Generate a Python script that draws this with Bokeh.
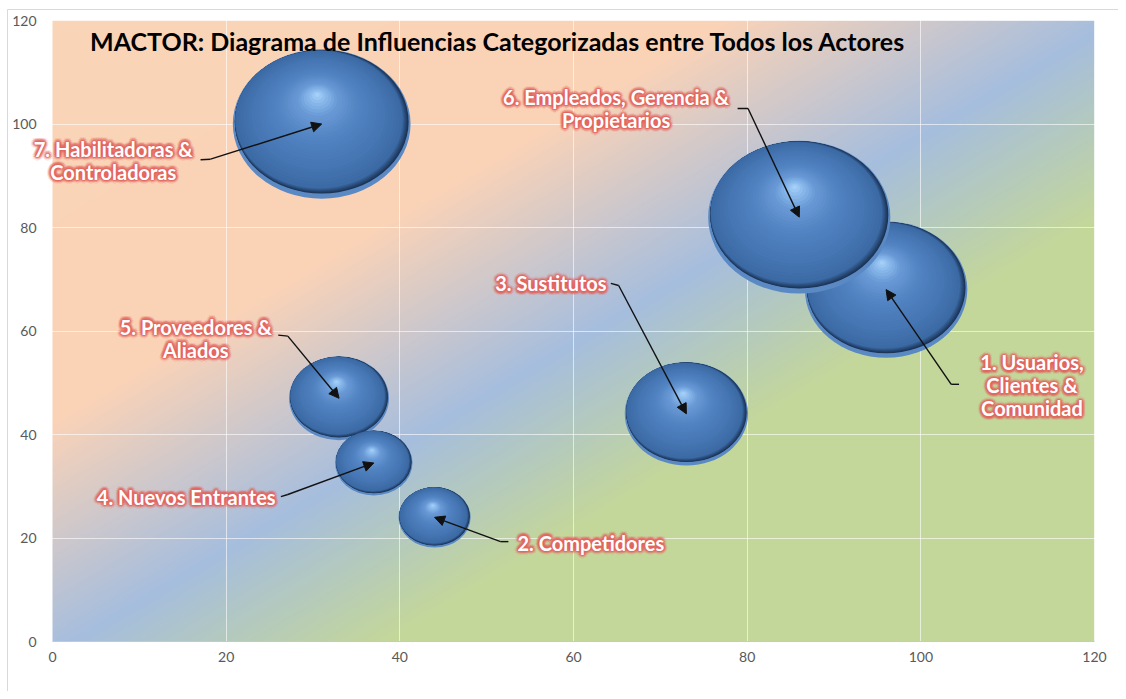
import numpy as np
from bokeh.plotting import figure
from bokeh.models import ColumnDataSource, Arrow, NormalHead, Label, Range1d, FixedTicker
from bokeh.core.properties import value
from bokeh.embed import file_html
from bokeh.resources import INLINE

# ---------------- data ----------------
title = "MACTOR: Diagrama de Influencias Categorizadas entre Todos los Actores"
actors = [
    "1. Usuarios,\nClientes &\nComunidad",
    "2. Competidores",
    "3. Sustitutos",
    "4. Nuevos Entrantes",
    "5. Proveedores &\nAliados",
    "6. Empleados, Gerencia &\nPropietarios",
    "7. Habilitadoras &\nControladoras",
]
influence = [96, 44, 73, 37, 33, 86, 31]
dependence = [68, 24, 44, 34.5, 47, 82, 100]
bubble_size = [66, 13, 38, 15, 25, 83, 79]
x_ticks = [0, 20, 40, 60, 80, 100, 120]
y_ticks = [0, 20, 40, 60, 80, 100, 120]

# data-label placement (annotation positions, data units)
label_x = [112.8, 62.0, 57.4, 15.4, 16.5, 64.9, 7.0]
label_y = [49.5, 19.1, 69.2, 28.0, 58.6, 103.0, 93.0]
leader_x0 = [104.4, 52.5, 64.3, 26.3, 26.0, 78.9, 17.05]
leader_y0 = [49.7, 19.3, 69.2, 28.0, 59.2, 103.0, 93.1]
leader_x1 = [103.5, 51.6, 65.2, 27.1, 27.1, 80.1, 18.2]
leader_y1 = [49.7, 19.3, 68.8, 28.4, 59.0, 103.0, 93.2]
draw_order = [0, 1, 2, 4, 3, 5, 6]

# ---------------- figure ----------------
# The frame covers the whole canvas so that labels outside the 0-120 area are not clipped.
W, H = 1118, 691
ML, MR, MT, MB = 52, 24, 20, 50          # margins (px) around the 0..120 plot area
PXX = (W - ML - MR) / 120.0
PXY = (H - MT - MB) / 120.0
x0, x1 = x_ticks[0], x_ticks[-1]
y0, y1 = y_ticks[0], y_ticks[-1]
xr0, xr1 = x0 - ML / PXX, x1 + MR / PXX
yr0, yr1 = y0 - MB / PXY, y1 + MT / PXY
p = figure(width=W, height=H, x_range=Range1d(xr0, xr1), y_range=Range1d(yr0, yr1),
           output_backend="svg", toolbar_location=None,
           min_border_left=0, min_border_right=0, min_border_top=0, min_border_bottom=0)
p.xaxis.visible = False
p.yaxis.visible = False
p.outline_line_color = None
p.background_fill_color = "white"
p.border_fill_color = "white"

# chart-area border (top and left edges visible in the window)
bx, by = xr0 + 7 / PXX, yr1 - 9 / PXY
p.line(x=[bx, xr1], y=[by, by], line_color="#D9D9D9", line_width=1)
p.line(x=[bx, bx], y=[yr0, by], line_color="#D9D9D9", line_width=1)

# background gradient (diagonal, peach -> blue -> green)
N = 300
u = np.linspace(0, 1, N)[None, :]
v = np.linspace(0, 1, N)[:, None]
t = u - v
st = [-1.0, -0.35, 0.02, 0.32, 1.0]
cols = [(251, 213, 183), (250, 211, 184), (166, 190, 222), (196, 215, 155), (196, 215, 155)]
img = np.empty((N, N), dtype=np.uint32)
view = img.view(dtype=np.uint8).reshape((N, N, 4))
for ch in range(3):
    view[:, :, ch] = np.interp(t, st, [c[ch] for c in cols]).astype(np.uint8)
view[:, :, 3] = 255
p.image_rgba(image=[img], x=x0, y=y0, dw=x1 - x0, dh=y1 - y0, level="image")

# grid lines
p.xgrid.ticker = FixedTicker(ticks=x_ticks[1:])
p.ygrid.ticker = FixedTicker(ticks=y_ticks[1:])
p.grid.grid_line_color = "white"
p.grid.grid_line_alpha = 0.6
p.grid.grid_line_width = 1

# axis line and tick labels
p.line(x=[x0, x1], y=[y0, y0], line_color="#C8C8C8", line_width=1)
p.text(x=x_ticks, y=[y0] * len(x_ticks), text=[str(v_) for v_ in x_ticks], y_offset=10,
       text_font=value("Lato"), text_font_size="14px", text_color="#595959",
       text_align="center", text_baseline="top")
p.text(x=[x0] * len(y_ticks), y=y_ticks, text=[str(v_) for v_ in y_ticks], x_offset=-16,
       text_font=value("Lato"), text_font_size="14px", text_color="#595959",
       text_align="right", text_baseline="middle")


def hex2rgb(h):
    h = h.lstrip("#")
    return [int(h[i:i + 2], 16) for i in (0, 2, 4)]


def mix(c1, c2, g):
    a, b = hex2rgb(c1), hex2rgb(c2)
    return "#%02x%02x%02x" % tuple(int(a[k] + (b[k] - a[k]) * g) for k in range(3))


shade_f = [1.0, 0.8, 0.5, 0.25, 0.1, 0.0]
shade_c = [hex2rgb(c) for c in ["#3C6AA5", "#4676B3", "#5283C2", "#6A9AD6", "#8DBDEE", "#B0D8FA"]]


def shade(f):
    rgb = [int(np.interp(-f, [-s for s in shade_f], [c[k] for c in shade_c])) for k in range(3)]
    return "#%02x%02x%02x" % tuple(rgb)


# bubbles: shaded spheres built from stacked ellipses
for i in draw_order:
    cx, cy = influence[i], dependence[i]
    rx = 10.0 * np.sqrt(bubble_size[i])
    ry = 0.84 * rx
    ux, uy = rx / PXX, ry / PXY          # radii in data units
    xs, ys, ws, hs, cs = [], [], [], [], []

    def add(x, y, sx, sy, c):
        xs.append(x); ys.append(y); ws.append(2 * sx * ux); hs.append(2 * sy * uy); cs.append(c)

    add(cx, cy, 1.0, 1.0, "#5A89C4")                         # bottom reflection rim
    c1x, c1y = cx - 0.03 * ux, cy + 0.06 * uy
    for k in range(8):                                       # soft dark edge
        g = k / 8.0
        add(cx + g * (c1x - cx), cy + 0.03 * uy + g * (c1y - cy - 0.03 * uy),
            0.978 - g * 0.038, 0.962 - g * 0.042, mix("#1B3354", "#3C6AA5", g))
    hx, hy = cx - 0.05 * ux, cy + 0.40 * uy
    for f in np.linspace(1.0, 0.03, 30):
        add(hx + f * (c1x - hx), hy + f * (c1y - hy), 0.94 * f, 0.92 * f, shade(f))
    src = ColumnDataSource(dict(x=xs, y=ys, w=ws, h=hs, c=cs))
    p.ellipse(x="x", y="y", width="w", height="h", fill_color="c", line_color=None, source=src)

# leader lines with arrow heads
p.segment(x0=leader_x0, y0=leader_y0, x1=leader_x1, y1=leader_y1, line_color="#111111", line_width=1.4)
arr_src = ColumnDataSource(dict(xs=leader_x1, ys=leader_y1, xe=influence, ye=dependence))
p.add_layout(Arrow(end=NormalHead(size=10, fill_color="#111111", line_color="#111111"),
                   x_start="xs", y_start="ys", x_end="xe", y_end="ye",
                   line_color="#111111", line_width=1.4, source=arr_src))

# data labels: white bold text with a red glow, one centred line per row
LINE_PX = 23.0
lx, ly, ls = [], [], []
for i, txt in enumerate(actors):
    parts = txt.split("\n")
    n = len(parts)
    for k, s in enumerate(parts):
        lx.append(label_x[i])
        ly.append(label_y[i] - (k - (n - 1) / 2.0) * LINE_PX / PXY)
        ls.append(s)
lab_src = ColumnDataSource(dict(x=lx, y=ly, t=ls))
text_kw = dict(x="x", y="y", text="t", source=lab_src, text_font=value("Lato"), text_font_style="bold",
               text_font_size="20px", text_align="center", text_baseline="middle")
for r, a in ((4.0, 0.12), (2.7, 0.24), (1.4, 0.36)):
    for ang in np.linspace(0, 2 * np.pi, 12, endpoint=False):
        p.text(x_offset=r * np.cos(ang), y_offset=r * np.sin(ang), text_color="#E4645E", text_alpha=a, **text_kw)
p.text(text_color="white", **text_kw)

# title inside the plot area
p.add_layout(Label(x=51.3, y=116.1, text=title, text_font="Lato", text_font_style="bold",
                   text_font_size="25px", text_color="black", text_align="center", text_baseline="middle"))

open("out.html", "w").write(file_html(p, INLINE))
